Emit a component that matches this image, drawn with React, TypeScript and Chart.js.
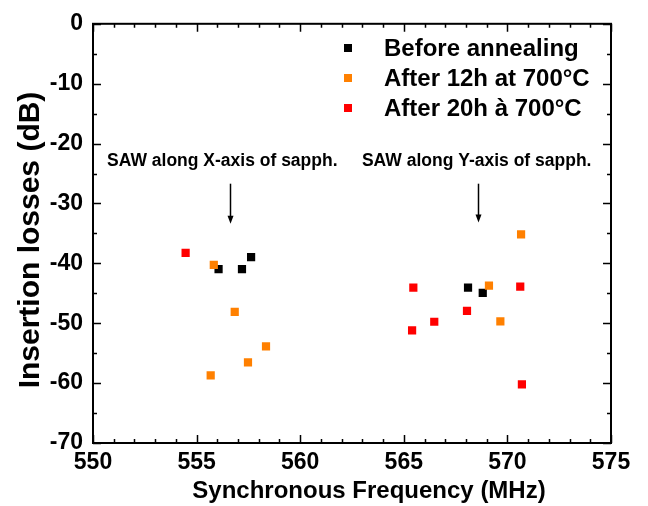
import React, { useEffect, useRef } from "react";
import { Chart, registerables } from "chart.js";

Chart.register(...registerables);

const seriesNames = ["Before annealing", "After 12h at 700°C", "After 20h à 700°C"];
const seriesColors = ["#000000", "#FF8000", "#FF0000"];

const beforeX = [556.06, 557.19, 557.63, 568.1, 568.81];
const beforeY = [-40.96, -40.96, -38.97, -44.06, -44.94];

const after12X = [555.83, 556.84, 558.35, 557.48, 555.68, 569.11, 569.66, 570.66];
const after12Y = [-40.25, -48.1, -53.85, -56.55, -58.7, -43.73, -49.7, -35.16];

const after20X = [554.47, 565.46, 570.62, 568.05, 566.47, 565.4, 570.7];
const after20Y = [-38.26, -44.06, -43.9, -47.93, -49.75, -51.19, -60.2];

const xMin = 550;
const xMax = 575;
const xMajor = 5;
const xMinor = 1;
const yMin = -70;
const yMax = 0;
const yMajor = 10;
const yMinor = 5;

const xTitle = "Synchronous Frequency (MHz)";
const yTitle = "Insertion losses (dB)";

const annotations = [
  { text: "SAW along X-axis of sapph.", x: 550.68, y: -23.0, arrowX: 556.6, arrowFrom: -26.7, arrowTo: -33.4 },
  { text: "SAW along Y-axis of sapph.", x: 562.98, y: -23.0, arrowX: 568.6, arrowFrom: -26.7, arrowTo: -33.2 },
];

const FONT = '"Liberation Sans", Arial, sans-serif';

function toPoints(xs: number[], ys: number[]) {
  return xs.map((x, i) => ({ x, y: ys[i] }));
}

const decorPlugin = {
  id: "decor",
  afterDraw(chart: any) {
    const ctx = chart.ctx as CanvasRenderingContext2D;
    const { left, right, top, bottom } = chart.chartArea;
    const xs = chart.scales.x;
    const ys = chart.scales.y;
    ctx.save();
    // frame
    ctx.strokeStyle = "#000";
    ctx.lineWidth = 2;
    ctx.strokeRect(left, top, right - left, bottom - top);
    // ticks
    ctx.lineWidth = 1.5;
    ctx.beginPath();
    for (let v = xMin; v <= xMax + 1e-6; v += xMinor) {
      const px = Math.round(xs.getPixelForValue(v)) + 0.5;
      const isMajor = Math.abs((v - xMin) % xMajor) < 1e-6;
      const len = isMajor ? 8 : 4;
      ctx.moveTo(px, bottom);
      ctx.lineTo(px, bottom - len);
      ctx.moveTo(px, top);
      ctx.lineTo(px, top + len);
    }
    for (let v = yMin; v <= yMax + 1e-6; v += yMinor) {
      const py = Math.round(ys.getPixelForValue(v)) + 0.5;
      const isMajor = Math.abs((v - yMin) % yMajor) < 1e-6;
      const len = isMajor ? 8 : 4;
      ctx.moveTo(left, py);
      ctx.lineTo(left + len, py);
      ctx.moveTo(right, py);
      ctx.lineTo(right - len, py);
    }
    ctx.stroke();

    // axis titles
    ctx.fillStyle = "#000";
    ctx.font = `bold 24px ${FONT}`;
    ctx.textAlign = "center";
    ctx.textBaseline = "middle";
    ctx.fillText(xTitle, 369, 491);
    ctx.save();
    ctx.translate(31, 240);
    ctx.rotate(-Math.PI / 2);
    ctx.font = `bold 30px ${FONT}`;
    ctx.fillText(yTitle, 0, 0);
    ctx.restore();

    // annotations
    ctx.font = `bold 17.5px ${FONT}`;
    ctx.textAlign = "left";
    for (const a of annotations) {
      ctx.fillText(a.text, xs.getPixelForValue(a.x), ys.getPixelForValue(a.y));
      const ax = Math.round(xs.getPixelForValue(a.arrowX)) + 0.5;
      const y1 = ys.getPixelForValue(a.arrowFrom);
      const y2 = ys.getPixelForValue(a.arrowTo);
      ctx.lineWidth = 1.5;
      ctx.beginPath();
      ctx.moveTo(ax, y1);
      ctx.lineTo(ax, y2 - 5);
      ctx.stroke();
      ctx.beginPath();
      ctx.moveTo(ax - 3, y2 - 8);
      ctx.lineTo(ax + 3, y2 - 8);
      ctx.lineTo(ax, y2);
      ctx.closePath();
      ctx.fill();
    }

    // legend
    const legX = 348;
    const legTextX = 384;
    const legY = [48, 78, 108];
    ctx.font = `bold 24px ${FONT}`;
    seriesNames.forEach((name, i) => {
      ctx.fillStyle = seriesColors[i];
      ctx.fillRect(legX - 4, legY[i] - 4, 8, 8);
      ctx.fillStyle = "#000";
      ctx.fillText(name, legTextX, legY[i] + 1);
    });
    ctx.restore();
  },
};

export default function App() {
  const ref = useRef<HTMLCanvasElement | null>(null);
  useEffect(() => {
    if (!ref.current) return;
    const mk = (i: number, xs: number[], ys: number[], order: number) => ({
      label: seriesNames[i],
      data: toPoints(xs, ys),
      pointStyle: "rect" as const,
      pointRadius: 5.8,
      pointHoverRadius: 5.8,
      pointBackgroundColor: seriesColors[i],
      pointBorderColor: seriesColors[i],
      pointBorderWidth: 0,
      backgroundColor: seriesColors[i],
      borderColor: seriesColors[i],
      showLine: false,
      order,
    });
    const chart = new Chart(ref.current, {
      type: "scatter",
      data: {
        datasets: [
          mk(0, beforeX, beforeY, 2),
          mk(1, after12X, after12Y, 1),
          mk(2, after20X, after20Y, 0),
        ],
      },
      options: {
        responsive: false,
        animation: false,
        events: [],
        layout: { padding: { left: 0, top: 21, right: 37, bottom: 0 } },
        plugins: { legend: { display: false }, tooltip: { enabled: false }, title: { display: false } },
        scales: {
          x: {
            type: "linear",
            min: xMin,
            max: xMax,
            ticks: {
              stepSize: xMajor,
              color: "#000",
              font: { family: FONT, size: 23, weight: "bold" },
              padding: 6,
              maxRotation: 0,
              autoSkip: false,
            },
            grid: { display: false, drawTicks: false },
            border: { display: false },
            afterFit: (s: any) => {
              s.height = 63;
            },
          },
          y: {
            type: "linear",
            min: yMin,
            max: yMax,
            ticks: {
              stepSize: yMajor,
              color: "#000",
              font: { family: FONT, size: 23, weight: "bold" },
              padding: 10,
            },
            grid: { display: false, drawTicks: false },
            border: { display: false },
            afterFit: (s: any) => {
              s.width = 93;
            },
          },
        },
      },
      plugins: [decorPlugin],
    });
    return () => chart.destroy();
  }, []);
  return (
    <div style={{ position: "fixed", left: 0, top: 0, width: 648, height: 506, background: "#fff" }}>
      <canvas ref={ref} width={648} height={506} />
    </div>
  );
}
